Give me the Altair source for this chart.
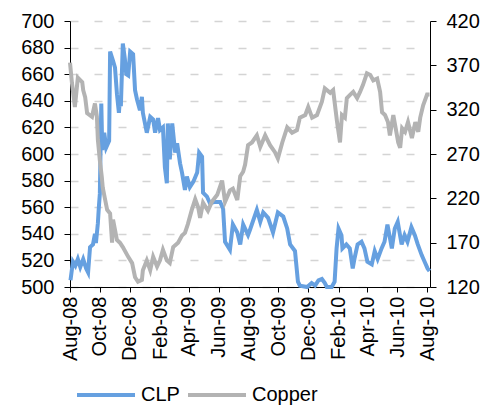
import altair as alt
import pandas as pd

# ---- CLP (left axis) ----
clp_dates = [
    "2008-08-02", "2008-08-07", "2008-08-12", "2008-08-17", "2008-08-22", "2008-08-28",
    "2008-09-03", "2008-09-07", "2008-09-11", "2008-09-17", "2008-09-21", "2008-09-23",
    "2008-09-27", "2008-09-29", "2008-10-01", "2008-10-04", "2008-10-06", "2008-10-10",
    "2008-10-14", "2008-10-20", "2008-10-22", "2008-10-28", "2008-11-01", "2008-11-05",
    "2008-11-09", "2008-11-11", "2008-11-13", "2008-11-17", "2008-11-21", "2008-11-24",
    "2008-11-28", "2008-12-02", "2008-12-08", "2008-12-12", "2008-12-16", "2008-12-22",
    "2008-12-26", "2008-12-28", "2009-01-05", "2009-01-12", "2009-01-18", "2009-01-22",
    "2009-01-28", "2009-02-01", "2009-02-07", "2009-02-11", "2009-02-15", "2009-02-17",
    "2009-02-21", "2009-02-26", "2009-03-04", "2009-03-08", "2009-03-14", "2009-03-18",
    "2009-03-24", "2009-03-28", "2009-04-03", "2009-04-10", "2009-04-18", "2009-04-22",
    "2009-04-28", "2009-04-30", "2009-05-08", "2009-05-14", "2009-05-25", "2009-06-04",
    "2009-06-10", "2009-06-14", "2009-06-24", "2009-06-30", "2009-07-09", "2009-07-15",
    "2009-07-21", "2009-07-31", "2009-08-04", "2009-08-18", "2009-08-25", "2009-08-31",
    "2009-09-10", "2009-09-20", "2009-09-30", "2009-10-11", "2009-10-19", "2009-10-25",
    "2009-11-04", "2009-11-10", "2009-11-14", "2009-11-29", "2009-12-08", "2009-12-15",
    "2009-12-22", "2009-12-29", "2010-01-04", "2010-01-08", "2010-01-18", "2010-01-24",
    "2010-01-28", "2010-02-01", "2010-02-07", "2010-02-09", "2010-02-17", "2010-02-24",
    "2010-03-02", "2010-03-06", "2010-03-12", "2010-03-20", "2010-03-26", "2010-04-01",
    "2010-04-10", "2010-04-16", "2010-04-22", "2010-04-30", "2010-05-06", "2010-05-12",
    "2010-05-21", "2010-05-27", "2010-06-02", "2010-06-10", "2010-06-16", "2010-06-22",
    "2010-06-30", "2010-07-07", "2010-07-13", "2010-07-21", "2010-07-27", "2010-08-02",
    "2010-08-06",
]
clp_values = [
    505, 519, 516, 521, 515, 521,
    514, 511, 530, 532, 540, 533,
    548, 560, 570, 638, 603, 616,
    605, 610, 677, 670, 665, 645,
    631, 641, 636, 683, 672, 660,
    659, 677, 675, 648, 641, 633,
    643, 631, 616, 628, 626, 616,
    627, 618, 620, 590, 578, 623,
    596, 623, 601, 608, 593, 586,
    573, 583, 575, 579, 586, 601,
    598, 571, 568, 563, 564, 564,
    559, 534, 528, 547, 541, 532,
    547, 539, 543, 558, 549, 556,
    552, 541, 556, 553, 544, 532,
    527, 504, 501, 500, 503, 501,
    505, 506, 503, 500, 500, 504,
    529, 544, 539, 529, 532, 529,
    514, 522, 532, 534, 529, 519,
    517, 527, 521, 529, 534, 547,
    529, 544, 549, 532, 539, 534,
    545, 539, 532, 524, 519, 514,
    512,
]

# ---- Copper (right axis) ----
cu_dates = [
    "2008-08-01", "2008-08-05", "2008-08-11", "2008-08-17", "2008-08-26", "2008-08-28",
    "2008-09-01", "2008-09-05", "2008-09-15", "2008-09-21", "2008-09-25", "2008-09-27",
    "2008-10-01", "2008-10-05", "2008-10-07", "2008-10-12", "2008-10-16", "2008-10-22",
    "2008-10-26", "2008-10-28", "2008-11-05", "2008-11-11", "2008-11-17", "2008-11-28",
    "2008-12-06", "2008-12-12", "2008-12-18", "2008-12-26", "2008-12-28", "2009-01-05",
    "2009-01-12", "2009-01-18", "2009-01-26", "2009-02-01", "2009-02-07", "2009-02-15",
    "2009-02-21", "2009-02-28", "2009-03-10", "2009-03-18", "2009-03-24", "2009-03-30",
    "2009-04-07", "2009-04-14", "2009-04-20", "2009-04-24", "2009-04-30", "2009-05-10",
    "2009-05-18", "2009-05-29", "2009-06-08", "2009-06-14", "2009-06-24", "2009-06-30",
    "2009-07-09", "2009-07-15", "2009-07-21", "2009-07-25", "2009-07-31", "2009-08-08",
    "2009-08-18", "2009-08-25", "2009-09-04", "2009-09-14", "2009-09-24", "2009-09-30",
    "2009-10-09", "2009-10-19", "2009-10-29", "2009-11-08", "2009-11-14", "2009-11-25",
    "2009-12-01", "2009-12-09", "2009-12-19", "2009-12-29", "2010-01-04", "2010-01-15",
    "2010-01-21", "2010-01-29", "2010-02-04", "2010-02-08", "2010-02-14", "2010-02-18",
    "2010-02-25", "2010-03-03", "2010-03-11", "2010-03-17", "2010-03-23", "2010-03-31",
    "2010-04-07", "2010-04-13", "2010-04-21", "2010-04-27", "2010-05-01", "2010-05-07",
    "2010-05-13", "2010-05-17", "2010-05-24", "2010-06-03", "2010-06-07", "2010-06-11",
    "2010-06-17", "2010-06-23", "2010-07-01", "2010-07-08", "2010-07-14", "2010-07-18",
    "2010-07-24", "2010-08-01", "2010-08-06",
]
cu_values = [
    373, 350, 323, 356, 351, 342,
    334, 316, 312, 327, 312, 286,
    263, 244, 232, 218, 207, 203,
    170, 196, 173, 170, 165, 154,
    147, 131, 126, 128, 139, 150,
    139, 154, 143, 150, 162, 150,
    147, 165, 170, 178, 181, 191,
    207, 219, 210, 198, 215, 206,
    216, 224, 240, 216, 229, 231,
    218, 245, 250, 258, 280, 283,
    291, 278, 291, 280, 272, 265,
    283, 300, 294, 297, 311, 314,
    323, 311, 314, 329, 344, 339,
    342, 306, 283, 314, 311, 333,
    337, 340, 333, 340, 348, 361,
    359, 353, 355, 340, 317, 314,
    306, 291, 314, 283, 277, 299,
    295, 306, 288, 306, 295, 311,
    325, 337, 337,
]

series_names = ["CLP", "Copper"]
series_colors = ["#66a0e0", "#b3b3b3"]
left_ticks = [500, 520, 540, 560, 580, 600, 620, 640, 660, 680, 700]
right_ticks = [120, 170, 220, 270, 320, 370, 420]
x_tick_months = [(2008, 8), (2008, 10), (2008, 12), (2009, 2), (2009, 4), (2009, 6),
                 (2009, 8), (2009, 10), (2009, 12), (2010, 2), (2010, 4), (2010, 6),
                 (2010, 8)]

clp_df = pd.DataFrame({"date": clp_dates, "value": clp_values, "series": "CLP"})
cu_df = pd.DataFrame({"date": cu_dates, "value": cu_values, "series": "Copper"})

FONT = "Liberation Sans"

x_enc = alt.X(
    "date:T",
    scale=alt.Scale(
        type="utc",
        domain=[alt.DateTime(year=2008, month=8, date=1, utc=True),
                alt.DateTime(year=2010, month=8, date=7, utc=True)],
    ),
    axis=alt.Axis(
        values=[alt.DateTime(year=y, month=m, date=1, utc=True) for y, m in x_tick_months],
        labelExpr="utcFormat(datum.value, '%b-%y')",
        labelAngle=270, labelFontSize=20,
        labelFont=FONT, labelColor="black", tickColor="black", domainColor="black",
        tickSize=5, labelPadding=4, grid=False, title=None, labelOverlap=False,
        labelFlush=False,
    ),
)

color_enc = alt.Color(
    "series:N",
    scale=alt.Scale(domain=series_names, range=series_colors),
    legend=alt.Legend(
        title=None, orient="none", legendX=5, legendY=343, direction="horizontal",
        symbolType="stroke", symbolSize=3364, symbolStrokeWidth=4,
        labelFontSize=20, labelFont=FONT, labelColor="black",
        labelOffset=4, columnPadding=0,
    ),
)

clp = alt.Chart(clp_df).mark_line(strokeWidth=4).encode(
    x=x_enc,
    y=alt.Y(
        "value:Q",
        scale=alt.Scale(domain=[500, 700], nice=False, zero=False),
        axis=alt.Axis(
            orient="left", values=left_ticks, grid=True, gridDash=[8, 16],
            gridColor="#d4d4d4", gridWidth=1.5, labelFontSize=20, labelFont=FONT,
            labelColor="black", tickColor="black", domainColor="black",
            tickSize=6, labelPadding=10, title=None,
        ),
    ),
    color=color_enc,
)

cu = alt.Chart(cu_df).mark_line(strokeWidth=4).encode(
    x=x_enc,
    y=alt.Y(
        "value:Q",
        scale=alt.Scale(domain=[120, 420], nice=False, zero=False),
        axis=alt.Axis(
            orient="right", values=right_ticks, grid=False, labelFontSize=20,
            labelFont=FONT, labelColor="black", tickColor="black",
            domainColor="black", tickSize=6, labelPadding=10, title=None,
        ),
    ),
    color=color_enc,
)

chart = (
    alt.layer(clp, cu)
    .resolve_scale(y="independent")
    .properties(
        width=360, height=266,
        autosize=alt.AutoSizeParams(type="none"),
        padding={"left": 62, "top": 13, "right": 56, "bottom": 118},
    )
    .configure_view(stroke=None)
)

chart.save("out.html", embed_options={"renderer": "svg", "actions": False})
